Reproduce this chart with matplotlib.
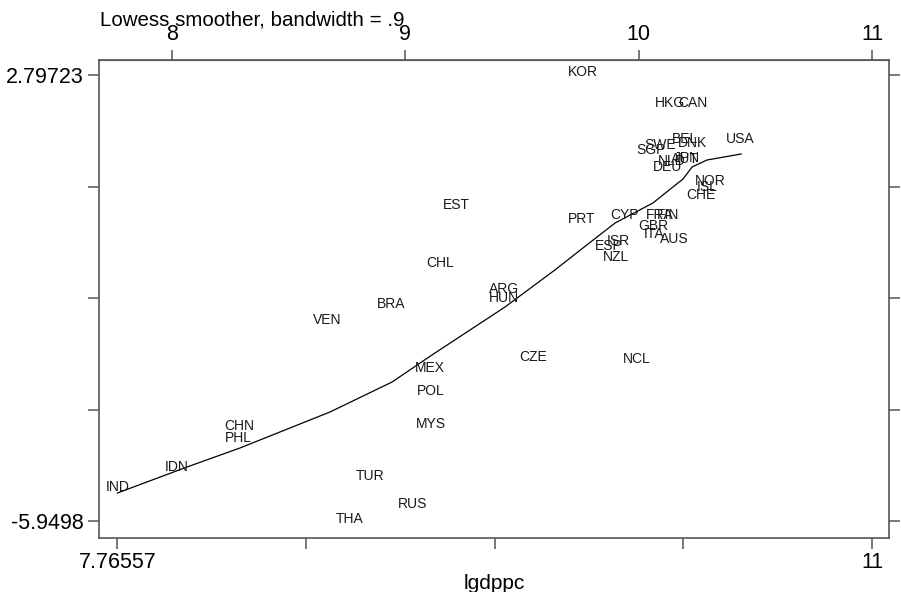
import numpy as np
import matplotlib
matplotlib.use("Agg")
import matplotlib.pyplot as plt
from matplotlib.transforms import offset_copy

plt.rcParams['font.family'] = ['Liberation Sans', 'DejaVu Sans']

# country codes with log gdp per capita (x) and outcome (y)
countries = ["IND", "IDN", "CHN", "PHL", "VEN", "BRA", "TUR", "THA", "RUS", "MEX",
             "POL", "MYS", "CHL", "EST", "ARG", "HUN", "CZE", "KOR", "PRT", "NCL",
             "ESP", "NZL", "ISR", "CYP", "SGP", "SWE", "GBR", "ITA", "FRA", "FIN",
             "DEU", "NLD", "HKG", "AUS", "AUT", "JPN", "BEL", "DNK", "CAN", "CHE",
             "ISL", "NOR", "USA"]
lgdppc = [7.76557, 8.021, 8.287, 8.283, 8.664, 8.939, 8.849, 8.763, 9.033, 9.106,
          9.110, 9.110, 9.149, 9.217, 9.423, 9.423, 9.547, 9.761, 9.757, 9.993,
          9.873, 9.903, 9.911, 9.941, 10.053, 10.091, 10.061, 10.066, 10.091, 10.126,
          10.126, 10.143, 10.134, 10.151, 10.199, 10.207, 10.199, 10.229, 10.233, 10.267,
          10.293, 10.306, 10.434]
yvals = [-5.332, -4.940, -4.136, -4.371, -2.057, -1.743, -5.116, -5.9498, -5.666, -2.998,
         -3.449, -4.097, -0.939, 0.199, -1.449, -1.625, -2.783, 2.79723, -0.076, -2.822,
         -0.606, -0.821, -0.508, 0.002, 1.277, 1.375, -0.213, -0.370, 0.002, 0.002,
         0.944, 1.061, 2.199, -0.468, 1.101, 1.120, 1.493, 1.414, 2.199, 0.395,
         0.551, 0.669, 1.493]

# lowess curve
smooth_x = [7.7657, 8.064, 8.291, 8.677, 8.943, 9.114, 9.427, 9.641, 9.761,
            9.899, 10.061, 10.190, 10.229, 10.293, 10.439]
smooth_y = [-5.401, -4.891, -4.518, -3.812, -3.224, -2.694, -1.753, -1.027, -0.596,
            -0.105, 0.287, 0.758, 0.993, 1.130, 1.248]

xmin, xmax = 7.76557, 11
ymin, ymax = -5.9498, 2.79723
frame = '#555555'

fig = plt.figure(figsize=(9.01, 5.92), dpi=100)
ax = fig.add_axes([99 / 901, 54 / 592, 790 / 901, 478 / 592])

ax.plot(smooth_x, smooth_y, color='black', lw=0.9)
lab_tr = offset_copy(ax.transData, fig=fig, x=0, y=2.5, units='dots')
for c, x, y in zip(countries, lgdppc, yvals):
    ax.text(x, y, c, ha='center', va='center', fontsize=10, color='#1a1a1a',
            transform=lab_tr)

ax.set_xlim(7.6871, 11.0729)
ax.set_ylim(-6.283, 3.0914)

for s in ax.spines.values():
    s.set_color(frame)
    s.set_linewidth(1.2)

xt = np.linspace(xmin, xmax, 5)
ax.set_xticks(xt)
ax.set_xticklabels(['7.76557', '', '', '', '11'])
yt = np.linspace(ymin, ymax, 5)
ax.set_yticks(yt)
ax.set_yticklabels(['-5.9498', '', '', '', '2.79723'])
ax.tick_params(axis='both', direction='out', length=8, width=1.1, color=frame,
               labelsize=15.5, pad=3, right=True)
ax.tick_params(axis='x', pad=2)

top = ax.secondary_xaxis('top')
top.set_xticks([8, 9, 10, 11])
top.tick_params(direction='out', length=7.5, width=1.1, color=frame,
                labelsize=15.5, pad=3)
top.spines['top'].set_color(frame)

ax.set_xlabel('lgdppc', fontsize=15, labelpad=1)
fig.text(100 / 901, 1 - 25 / 592, 'Lowess smoother, bandwidth = .9',
         fontsize=14.8, ha='left', va='baseline')

fig.savefig('out.png', dpi=100, facecolor='white')
